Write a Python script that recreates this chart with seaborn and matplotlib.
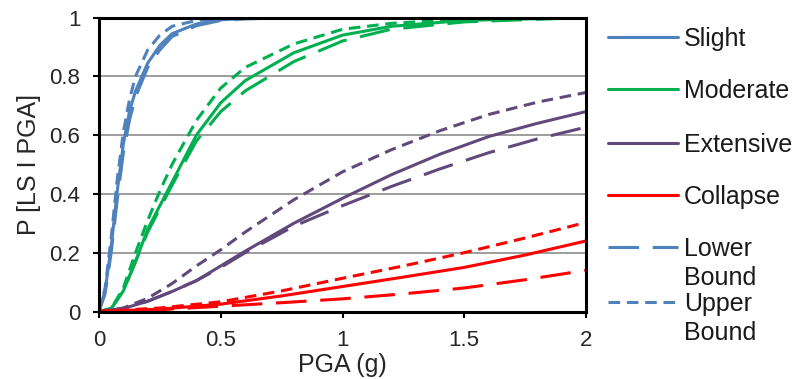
import numpy as np
import pandas as pd
import matplotlib
matplotlib.use("Agg")
import matplotlib.pyplot as plt
import seaborn as sns
from matplotlib.lines import Line2D

# ---------------- data ----------------
states = ["Slight", "Moderate", "Extensive", "Collapse"]
bounds = ["Best", "Lower", "Upper"]

slight_x = [0, 0.025, 0.05, 0.075, 0.1, 0.125, 0.15, 0.2, 0.25, 0.3, 0.4, 0.5, 0.6, 0.8, 1.0, 1.5, 2.0]
slight_best = [0, 0.07, 0.22, 0.41, 0.57, 0.68, 0.75, 0.845, 0.905, 0.945, 0.978, 0.992, 0.997, 1, 1, 1, 1]
slight_lower = [0, 0.06, 0.20, 0.38, 0.54, 0.65, 0.73, 0.83, 0.89, 0.935, 0.972, 0.99, 0.995, 1, 1, 1, 1]
slight_upper = [0, 0.08, 0.25, 0.45, 0.61, 0.72, 0.80, 0.89, 0.94, 0.97, 0.99, 0.997, 1, 1, 1, 1, 1]

moderate_x = [0, 0.05, 0.1, 0.15, 0.2, 0.25, 0.3, 0.4, 0.5, 0.6, 0.8, 1.0, 1.2, 1.5, 2.0]
moderate_best = [0, 0.01, 0.07, 0.17, 0.28, 0.36, 0.44, 0.60, 0.71, 0.785, 0.88, 0.94, 0.97, 0.99, 1.0]
moderate_lower = [0, 0.01, 0.07, 0.17, 0.27, 0.35, 0.43, 0.58, 0.68, 0.75, 0.85, 0.92, 0.96, 0.985, 1.0]
moderate_upper = [0, 0.01, 0.08, 0.20, 0.31, 0.41, 0.50, 0.65, 0.76, 0.83, 0.91, 0.96, 0.98, 0.995, 1.0]

extensive_x = [0, 0.1, 0.2, 0.3, 0.4, 0.5, 0.6, 0.8, 1.0, 1.2, 1.4, 1.6, 1.8, 2.0]
extensive_best = [0, 0.01, 0.035, 0.068, 0.105, 0.155, 0.205, 0.30, 0.385, 0.465, 0.535, 0.595, 0.64, 0.68]
extensive_lower = [0, 0.01, 0.035, 0.068, 0.105, 0.15, 0.20, 0.29, 0.36, 0.425, 0.485, 0.54, 0.587, 0.627]
extensive_upper = [0, 0.012, 0.045, 0.095, 0.155, 0.21, 0.27, 0.38, 0.475, 0.55, 0.615, 0.67, 0.712, 0.745]

collapse_x = [0, 0.25, 0.5, 0.75, 1.0, 1.25, 1.5, 1.75, 2.0]
collapse_best = [0, 0.008, 0.025, 0.053, 0.085, 0.117, 0.15, 0.192, 0.24]
collapse_lower = [0, 0.006, 0.018, 0.03, 0.043, 0.06, 0.08, 0.108, 0.14]
collapse_upper = [0, 0.012, 0.033, 0.07, 0.113, 0.155, 0.2, 0.25, 0.303]

x_ticks = [0, 0.5, 1, 1.5, 2]
x_tick_labels = ["0", "0.5", "1", "1.5", "2"]
y_ticks = [0, 0.2, 0.4, 0.6, 0.8, 1]
y_tick_labels = ["0", "0.2", "0.4", "0.6", "0.8", "1"]
legend_labels = ["Slight", "Moderate", "Extensive", "Collapse", "Lower\nBound", "Upper\nBound"]

# ---------------- build long-form table ----------------
series = {
    "Slight": (slight_x, slight_best, slight_lower, slight_upper),
    "Moderate": (moderate_x, moderate_best, moderate_lower, moderate_upper),
    "Extensive": (extensive_x, extensive_best, extensive_lower, extensive_upper),
    "Collapse": (collapse_x, collapse_best, collapse_lower, collapse_upper),
}
rows = []
for st, (xs, b, lo, up) in series.items():
    for bd, ys in zip(bounds, (b, lo, up)):
        for xv, yv in zip(xs, ys):
            rows.append({"state": st, "bound": bd, "PGA": xv, "P": yv})
df = pd.DataFrame(rows)

colors = {"Slight": "#4F81BD", "Moderate": "#00B050", "Extensive": "#604A7B", "Collapse": "#FF0000"}
dash_styles = {"Best": "", "Lower": (10, 4.5), "Upper": (3.8, 2.2)}

# ---------------- plot ----------------
sns.set_theme(style="white")
plt.rcParams["font.family"] = ["Liberation Sans", "DejaVu Sans"]

fig = plt.figure(figsize=(7.98, 3.79), dpi=100)
ax = fig.add_axes([99 / 798, (379 - 311.5) / 379, (586 - 99) / 798, (311.5 - 17.5) / 379])

lw = 2.2
sns.lineplot(data=df, x="PGA", y="P", hue="state", style="bound",
             hue_order=states, style_order=bounds,
             palette=colors, dashes=dash_styles, linewidth=lw,
             estimator=None, sort=False, legend=False, ax=ax)

ax.set_xlim(0, 2)
ax.set_ylim(0, 1)
ax.set_xticks(x_ticks)
ax.set_xticklabels(x_tick_labels)
ax.set_yticks(y_ticks)
ax.set_yticklabels(y_tick_labels)
for yv in y_ticks[1:-1]:
    ax.axhline(yv, color="#8C8C8C", lw=1.2, zorder=0)

for s in ax.spines.values():
    s.set_visible(True)
    s.set_color("black")
    s.set_linewidth(2.2)

ax.tick_params(axis="both", which="both", direction="out", length=4.5, width=1.5,
               color="black", labelsize=16, pad=9, left=True, bottom=True)
ax.set_xlabel("PGA (g)", fontsize=18, labelpad=1)
ax.set_ylabel("P [LS I PGA]", fontsize=18, labelpad=6)

# ---------------- legend (manual, outside axes) ----------------
W, H = 798, 379
handle_y = [37, 89, 143, 195, 247, 302]
handle_styles = [("Slight", "Best"), ("Moderate", "Best"), ("Extensive", "Best"),
                 ("Collapse", "Best"), ("Slight", "Lower"), ("Slight", "Upper")]
for yy, lab, (st, bd) in zip(handle_y, legend_labels, handle_styles):
    ln = Line2D([608 / W, 678 / W], [1 - yy / H, 1 - yy / H], transform=fig.transFigure,
                color=colors[st], lw=lw)
    if dash_styles[bd]:
        ln.set_dashes(dash_styles[bd])
    fig.add_artist(ln)
    lines = lab.split("\n")
    for i, t in enumerate(lines):
        fig.text(684 / W, 1 - (yy + 9 + i * 29) / H, t, fontsize=18, ha="left", va="baseline",
                 color="#1a1a1a")

fig.savefig("out.png", dpi=100)
